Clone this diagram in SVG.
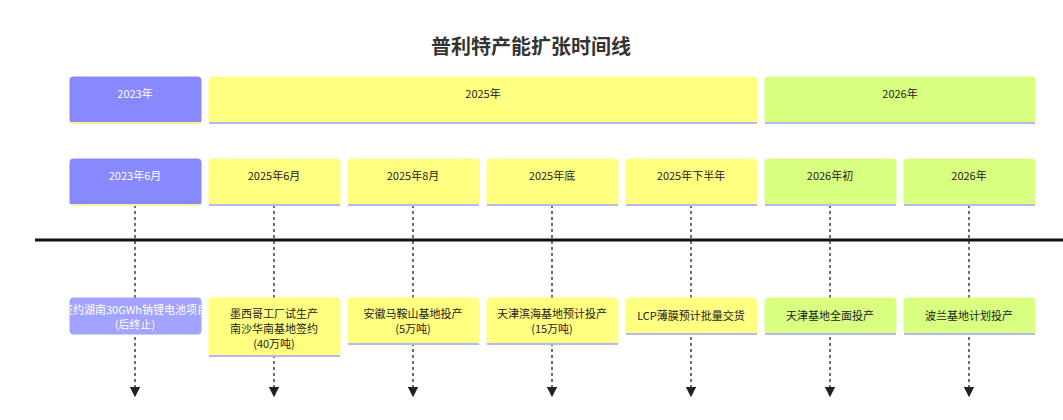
<svg xmlns="http://www.w3.org/2000/svg" width="1063" height="420" viewBox="0 0 1063 420">
<style>
text{font-family:"Noto Sans CJK SC","Noto Sans",sans-serif;font-size:11px;text-anchor:middle;fill:#222}
.w{fill:#fff}
.b{fill:#8888ff;stroke:#8888ff}
.b2{fill:#a2a2ff;stroke:#a2a2ff}
.y{fill:#ffff80;stroke:#ffff80}
.g{fill:#d8ff80;stroke:#d8ff80}
.ul{stroke:#b8b8f0;stroke-width:2}
.uy{stroke:#f4f4a0;stroke-width:2}
.d{stroke:#222;stroke-width:1.3;stroke-dasharray:3 3;fill:none}
</style>
<defs>
<marker id="a" markerWidth="8" markerHeight="8" refX="4" refY="4" orient="auto"><path d="M0,0L8,4L0,8z" fill="#222"/></marker>
<clipPath id="c0"><rect x="70" y="298" width="131" height="36"/></clipPath>
</defs>
<text x="531" y="54" style="font-size:20px;font-weight:bold;fill:#333">普利特产能扩张时间线</text>
<g id="connectors">
<line x1="35" y1="240" x2="1063" y2="240" stroke="#111" stroke-width="3"/>
<line class="d" x1="135" y1="205" x2="135" y2="392" marker-end="url(#a)"/>
<line class="d" x1="274" y1="205" x2="274" y2="392" marker-end="url(#a)"/>
<line class="d" x1="413" y1="205" x2="413" y2="392" marker-end="url(#a)"/>
<line class="d" x1="552" y1="205" x2="552" y2="392" marker-end="url(#a)"/>
<line class="d" x1="691" y1="205" x2="691" y2="392" marker-end="url(#a)"/>
<line class="d" x1="830" y1="205" x2="830" y2="392" marker-end="url(#a)"/>
<line class="d" x1="969" y1="205" x2="969" y2="392" marker-end="url(#a)"/>
</g>
<g id="y2023"><rect class="b" x="70" y="77" width="131" height="46" rx="3"/><line class="uy" x1="70" y1="123" x2="201" y2="123"/><text class="w" x="135" y="98">2023年</text></g>
<g id="y2025"><rect class="y" x="209" y="77" width="548" height="46" rx="3"/><line class="ul" x1="209" y1="123" x2="757" y2="123"/><text x="483" y="98">2025年</text></g>
<g id="y2026"><rect class="g" x="765" y="77" width="270" height="46" rx="3"/><line class="ul" x1="765" y1="123" x2="1035" y2="123"/><text x="900" y="98">2026年</text></g>
<g id="e1"><rect class="b" x="70" y="159" width="131" height="46" rx="3"/><line class="uy" x1="70" y1="205" x2="201" y2="205"/><text class="w" x="135" y="180">2023年6月</text></g>
<g id="e2"><rect class="y" x="209" y="159" width="131" height="46" rx="3"/><line class="ul" x1="209" y1="205" x2="340" y2="205"/><text x="274" y="180">2025年6月</text></g>
<g id="e3"><rect class="y" x="348" y="159" width="131" height="46" rx="3"/><line class="ul" x1="348" y1="205" x2="479" y2="205"/><text x="413" y="180">2025年8月</text></g>
<g id="e4"><rect class="y" x="487" y="159" width="131" height="46" rx="3"/><line class="ul" x1="487" y1="205" x2="618" y2="205"/><text x="552" y="180">2025年底</text></g>
<g id="e5"><rect class="y" x="626" y="159" width="131" height="46" rx="3"/><line class="ul" x1="626" y1="205" x2="757" y2="205"/><text x="691" y="180">2025年下半年</text></g>
<g id="e6"><rect class="g" x="765" y="159" width="131" height="46" rx="3"/><line class="ul" x1="765" y1="205" x2="896" y2="205"/><text x="830" y="180">2026年初</text></g>
<g id="e7"><rect class="g" x="904" y="159" width="131" height="46" rx="3"/><line class="ul" x1="904" y1="205" x2="1035" y2="205"/><text x="969" y="180">2026年</text></g>
<g id="d1"><rect class="b2" x="70" y="298" width="131" height="36" rx="3"/><g clip-path="url(#c0)"><text class="w" x="135" y="314">签约湖南30GWh钠锂电池项目</text><text class="w" x="135" y="329">(后终止)</text></g></g>
<g id="d2"><rect class="y" x="209" y="298" width="131" height="58" rx="3"/><line class="ul" x1="209" y1="356" x2="340" y2="356"/><text x="274" y="318">墨西哥工厂试生产</text><text x="274" y="333">南沙华南基地签约</text><text x="274" y="348">(40万吨)</text></g>
<g id="d3"><rect class="y" x="348" y="298" width="131" height="46" rx="3"/><line class="ul" x1="348" y1="344" x2="479" y2="344"/><text x="413" y="318">安徽马鞍山基地投产</text><text x="413" y="333">(5万吨)</text></g>
<g id="d4"><rect class="y" x="487" y="298" width="131" height="46" rx="3"/><line class="ul" x1="487" y1="344" x2="618" y2="344"/><text x="552" y="318">天津滨海基地预计投产</text><text x="552" y="333">(15万吨)</text></g>
<g id="d5"><rect class="y" x="626" y="298" width="131" height="36" rx="3"/><line class="ul" x1="626" y1="334" x2="757" y2="334"/><text x="691" y="320">LCP薄膜预计批量交货</text></g>
<g id="d6"><rect class="g" x="765" y="298" width="131" height="36" rx="3"/><line class="ul" x1="765" y1="334" x2="896" y2="334"/><text x="830" y="320">天津基地全面投产</text></g>
<g id="d7"><rect class="g" x="904" y="298" width="131" height="36" rx="3"/><line class="ul" x1="904" y1="334" x2="1035" y2="334"/><text x="969" y="320">波兰基地计划投产</text></g>
</svg>
